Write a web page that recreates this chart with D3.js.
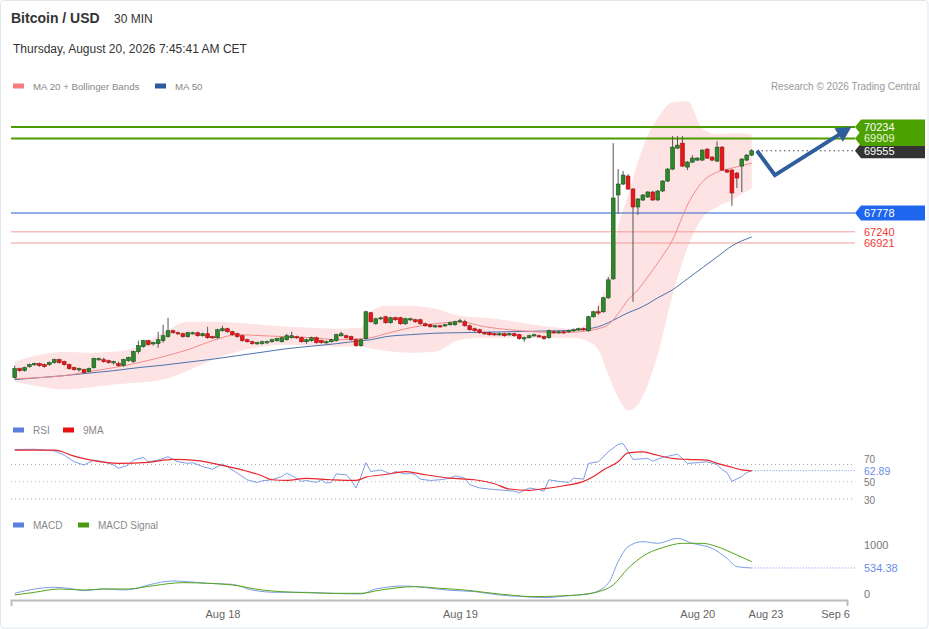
<!DOCTYPE html>
<html><head><meta charset="utf-8">
<script src="https://cdn.jsdelivr.net/npm/d3@7"></script>
<style>body{margin:0;background:#fff;} svg text{font-family:"Liberation Sans",Arial,sans-serif;}</style>
</head><body><svg id="c" width="929" height="629"></svg>
<script>
// ---------- DATA ----------
const startTime = "2026-08-17T03:00:00Z";   // first 30-min candle
const endTime = "2026-09-08T09:30:00Z";     // end of time axis
const open = [63076,63332,63275,63389,63446,63475,63446,63446,63503,63589,
63532,63446,63361,63304,63304,63247,63361,63589,63589,63560,
63503,63475,63418,63560,63532,63817,63960,64131,64045,64045,
64131,64245,64416,64359,64330,64245,64330,64359,64273,64330,
64245,64216,64416,64473,64387,64330,64273,64159,64102,64045,
64045,64074,64102,64131,64102,64159,64216,64245,64216,64102,
64131,64216,64131,64074,64102,64131,64273,64273,64245,64159,
63988,64188,64929,64615,64758,64815,64644,64786,64786,64615,
64729,64729,64729,64615,64587,64530,64558,64558,64587,64587,
64672,64672,64558,64473,64444,64359,64359,64330,64302,64330,
64302,64330,64302,64188,64216,64273,64273,64245,64216,64387,
64359,64387,64387,64416,64444,64473,64416,64815,64957,64957,
65356,65897,68292,68605,68833,68463,67950,68149,68235,68377,
68149,68406,68690,69032,69631,69773,69089,69232,69289,69289,
69602,69374,69260,69659,69004,69004,68918,69118,69289,69431];
const close = [63332,63275,63361,63446,63475,63418,63389,63503,63589,63503,
63446,63332,63304,63332,63218,63332,63617,63617,63532,63503,
63532,63418,63589,63646,63817,63988,64131,64017,64074,64159,
64273,64416,64359,64330,64245,64359,64359,64273,64330,64216,
64216,64444,64473,64387,64302,64245,64131,64102,64045,64074,
64102,64102,64159,64188,64216,64273,64273,64216,64102,64159,
64216,64074,64074,64102,64159,64302,64330,64216,64159,63988,
64159,64957,64672,64758,64786,64644,64786,64729,64615,64758,
64758,64672,64615,64558,64530,64558,64530,64587,64644,64672,
64701,64558,64444,64416,64359,64330,64302,64302,64330,64273,
64330,64273,64188,64216,64273,64302,64245,64188,64416,64359,
64387,64359,64416,64444,64473,64444,64815,64957,64943,65356,
65869,68206,68605,68861,68463,67950,68178,68292,68377,68149,
68406,68690,69032,69659,69716,69118,69232,69346,69346,69574,
69346,69289,69659,69004,68947,68349,68776,69317,69431,69555];
const high = [63418,63361,63389,63475,63503,63503,63475,63532,63617,63617,
63560,63475,63389,63361,63332,63361,63646,63646,63646,63589,
63560,63532,63617,63674,63846,64131,64159,64159,64102,64387,
64587,64786,64444,64387,64359,64387,64387,64387,64359,64530,
64273,64473,64558,64501,64416,64359,64302,64188,64131,64102,
64131,64131,64188,64216,64245,64330,64387,64273,64245,64188,
64245,64245,64159,64131,64188,64330,64387,64302,64273,64188,
64188,64986,64957,64786,64815,64843,64815,64815,64815,64786,
64786,64758,64758,64644,64615,64587,64587,64615,64672,64701,
64758,64729,64587,64501,64473,64387,64387,64359,64359,64359,
64359,64359,64330,64245,64302,64330,64302,64273,64444,64416,
64416,64416,64444,64473,64501,64501,64843,64986,65128,65384,
65954,69773,69032,68975,68890,68491,68206,68320,68406,68406,
68434,68719,69061,69973,69973,69973,69260,69431,69374,69602,
69631,69403,69829,69688,69032,69032,68947,69346,69460,69602];
const low = [63047,63247,63247,63361,63418,63389,63361,63418,63475,63475,
63418,63304,63275,63247,63190,63218,63332,63560,63503,63475,
63446,63389,63389,63532,63503,63760,63931,63988,63988,63931,
64074,64216,64330,64302,64216,64216,64302,64245,64245,64188,
64188,64188,64387,64359,64273,64216,64102,64074,64017,64017,
64017,64045,64074,64102,64074,64131,64188,64188,64074,64045,
64102,64045,64045,64045,64074,64102,64245,64188,64131,63960,
63960,64159,64644,64587,64729,64615,64615,64701,64587,64587,
64701,64644,64587,64530,64501,64501,64501,64530,64558,64558,
64644,64530,64416,64387,64330,64302,64273,64273,64273,64245,
64273,64245,64159,64102,64188,64245,64216,64159,64188,64330,
64330,64330,64359,64387,64416,64416,64387,64786,64872,64929,
65327,65869,67750,68576,68434,65242,67721,68121,68206,68121,
68121,68377,68662,69004,69602,69089,69004,69203,69260,69260,
69317,69260,69232,68975,68918,67978,68491,68377,69260,69403];

// indicator readings (candle index -> value)
const indIdx = [0,5,10,15,20,25,30,35,40,45,50,55,60,65,70,72,75,80,85,90,95,100,105,110,113,116,118,120,122,124,126,128,130,133,136,139,142,145,149];
const ma50 = [63019,63076,63133,63204,63275,63361,63432,63517,63603,63703,63802,63902,63973,64045,64131,64159,64245,64302,64344,64359,64373,64387,64401,64416,64430,64473,64530,64644,64786,64929,65042,65184,65356,65584,65897,66211,66524,66838,67092];
const ma20 = [63047,63076,63133,63247,63361,63503,63674,63874,64131,64302,64273,64245,64216,64159,64188,64216,64330,64501,64615,64672,64530,64444,64387,64359,64373,64416,64473,64587,64900,65299,65584,65954,66354,67009,68006,68661,68946,69061,69203];
const bbUpper = [63532,63731,63817,63789,63817,63960,64359,64672,64672,64644,64587,64530,64501,64473,64501,64957,65128,65128,65042,64842,64785,64700,64587,64501,64473,64672,65156,65869,67351,68291,69231,70001,70486,70942,70970,70201,70030,70059,70030];
const bbLower = [62962,62820,62734,62791,62877,62934,63019,63275,63589,63817,63960,64017,63988,63960,63960,63902,63846,63789,63817,64159,64216,64216,64216,64216,64216,64102,63874,63161,62505,62135,62306,62877,63731,65441,66781,67636,67950,68149,68491];

const rsiIdx = [0,4,8,10,12,14,16,18,20,21,23,24,26,27,29,31,33,35,36,38,40,42,43,45,47,49,50,52,54,55,56,58,59,61,62,63,64,65,67,68,69,70,71,72,74,76,77,79,80,81,82,84,86,88,89,91,92,94,97,99,101,102,104,106,107,108,110,112,113,115,116,118,120,122,123,125,128,129,131,134,136,138,140,142,143,144,145,147,148,149];
const rsiVal = [87.3,87.7,85.8,80.9,73.2,69.4,75.1,73.2,69.4,65.6,69.4,75.1,78.2,73.2,75.1,79.0,73.2,71.3,72.1,67.5,64.5,70.6,67.5,59.9,52.3,49.2,51.1,52.3,56.1,59.9,57.2,50.4,51.5,49.2,52.3,48.5,49.2,59.1,58.0,52.3,42.8,56.1,72.1,61.8,63.7,59.1,61.8,59.1,59.9,58.0,53.0,51.5,52.3,54.2,56.9,54.2,46.6,42.8,40.9,40.1,39.0,37.1,42.8,40.9,39.0,52.3,50.4,49.2,54.2,53.0,71.3,73.2,84.7,93.4,94.2,75.9,77.0,74.0,78.2,82.0,71.3,72.1,73.2,70.0,64.0,60.7,50.4,56.1,60.7,62.89];
const rsiMaIdx = [0,8,12,16,21,27,32,37,41,46,50,52,55,59,64,69,71,75,79,82,88,93,97,100,104,107,111,115,117,119,122,124,127,129,133,136,140,142,145,147,149];
const rsiMaVal = [86.6,86.6,79.7,74.4,71.3,72.5,75.9,74.4,70.2,63.7,56.9,52.3,51.5,53.8,52.3,51.5,55.3,58.4,61.8,59.1,54.2,52.3,47.7,41.6,40.1,42.0,45.4,50.4,56.1,63.7,73.2,83.5,84.7,82.0,77.0,75.9,75.1,71.3,66.8,63.7,62.6];
const macdIdx = [0,4,8,11,14,18,22,24,27,32,35,39,44,48,53,59,64,70,73,79,83,88,93,98,103,107,112,116,120,122,124,127,130,134,137,141,144,146,149];
const macdVal = [20,108,141,121,74,108,87,108,189,270,256,223,202,87,40,40,20,6,108,168,135,81,54,-14,-48,-68,-28,6,222,662,966,1068,1034,1135,1034,932,730,561,534.38];
const sigIdx = [0,4,9,14,18,23,28,34,39,44,50,54,59,64,70,74,81,86,91,95,100,105,110,115,118,121,124,128,131,135,139,142,146,149];
const sigVal = [-14,40,108,87,108,108,175,236,223,189,87,53,33,20,20,87,155,121,87,40,-14,-48,-34,0,53,189,527,831,946,1034,1034,966,797,662];

const resistances = [70234, 69909];
const lastPrice = 69555;
const pivot = 67778;
const supports = [67240, 66921];
const rsiLast = 62.89, macdLast = 534.38;
const rsiTicks = [70, 50, 30];
const macdTicks = [1000, 0];
const forecastTimes = ["2026-08-21T07:00:00Z","2026-08-24T21:30:00Z","2026-09-09T06:30:00Z"];
const forecastPrices = [69555, 68861, 70234];
const tickDates = ["2026-08-18T00:00:00Z","2026-08-19T00:00:00Z","2026-08-20T00:00:00Z","2026-08-23T00:00:00Z","2026-09-06T00:00:00Z"];
const tickLabels = ["Aug 18","Aug 19","Aug 20","Aug 23","Sep 6"];

// ---------- SCALES ----------
const svg = d3.select("#c");
const parse = d3.isoParse;
const step = 30*60*1000;
const t0 = parse(startTime);
const tLast = new Date(+t0 + (close.length-1)*step);
const x = d3.scaleUtc().domain([new Date(+t0 - 0.75*step), tLast, parse(endTime)]).range([11, 751.7, 847]);
const xi = i => x(new Date(+t0 + i*step));
const y = d3.scaleLinear().domain([66921, 70234]).range([243, 127]);
const yR = d3.scaleLinear().domain([30, 70]).range([499, 464.5]);
const yM = d3.scaleLinear().domain([0, 1000]).range([594.3, 545]);
const X0 = 11, X1 = 855, TAGX = 864;

svg.append("rect").attr("x",0.5).attr("y",0.5).attr("width",927.5).attr("height",627.5)
  .attr("rx",3).attr("fill","none").attr("stroke","#e2e7ed");

// ---------- HEADER ----------
svg.append("text").attr("x",11).attr("y",23).attr("font-size",14).attr("font-weight","bold").attr("fill","#333").text("Bitcoin / USD");
svg.append("text").attr("x",114).attr("y",23).attr("font-size",12).attr("fill","#333").text("30 MIN");
svg.append("text").attr("x",13).attr("y",53).attr("font-size",12).attr("fill","#333").text("Thursday, August 20, 2026 7:45:41 AM CET");
function legend(items, yy, fs){
  items.forEach(it=>{
    svg.append("rect").attr("x",it.x).attr("y",yy-2.5).attr("width",11).attr("height",5).attr("fill",it.c);
    svg.append("text").attr("x",it.x+20).attr("y",yy+3.5).attr("font-size",fs).attr("fill","#888").text(it.t);
  });
}
legend([{x:13,c:"#f77d7d",t:"MA 20 + Bollinger Bands"},{x:155,c:"#2d5a9c",t:"MA 50"}], 86, 9.7);
svg.append("text").attr("x",920).attr("y",90).attr("text-anchor","end").attr("font-size",10).attr("fill","#999").text("Research © 2026 Trading Central");

// ---------- PRICE PANEL ----------
const ind = indIdx.map((d,k)=>({i:d, lo:bbLower[k], hi:bbUpper[k], m20:ma20[k], m50:ma50[k]}));
svg.append("path").datum(ind)
  .attr("d", d3.area().x(d=>xi(d.i)).y0(d=>y(d.lo)).y1(d=>y(d.hi)).curve(d3.curveMonotoneX))
  .attr("fill","#fde3e3");

function hline(v, color, w, dash, xa){
  svg.append("line").attr("x1",xa===undefined?X0:xa).attr("x2",X1).attr("y1",y(v)).attr("y2",y(v))
    .attr("stroke",color).attr("stroke-width",w).attr("stroke-dasharray",dash||null);
}
supports.forEach(v=>hline(v,"#f59a9a",1));
hline(pivot,"#2a5fcf",1.2);
resistances.forEach(v=>hline(v,"#4c9c00",2));

svg.append("path").datum(ind).attr("d", d3.line().x(d=>xi(d.i)).y(d=>y(d.m50)).curve(d3.curveMonotoneX))
  .attr("fill","none").attr("stroke","#4d72ad").attr("stroke-width",1);
svg.append("path").datum(ind).attr("d", d3.line().x(d=>xi(d.i)).y(d=>y(d.m20)).curve(d3.curveMonotoneX))
  .attr("fill","none").attr("stroke","#f58b8b").attr("stroke-width",1);

// candles
const candles = close.map((c,i)=>({i, o:open[i], h:high[i], l:low[i], c}));
const cg = svg.append("g");
cg.selectAll("line").data(candles).join("line")
  .attr("x1",d=>xi(d.i)).attr("x2",d=>xi(d.i)).attr("y1",d=>y(d.h)).attr("y2",d=>y(d.l))
  .attr("stroke","#555").attr("stroke-width",1);
cg.selectAll("rect").data(candles).join("rect")
  .attr("x",d=>xi(d.i)-1.9).attr("width",3.8)
  .attr("y",d=>y(Math.max(d.o,d.c)))
  .attr("height",d=>Math.max(1.2, Math.abs(y(d.o)-y(d.c))))
  .attr("fill",d=>d.c>=d.o?"#2a8a2a":"#e8161b")
  .attr("stroke",d=>d.c>=d.o?"#1f4f1f":"#a51010").attr("stroke-width",0.6);

// forecast arrow
const fc = forecastTimes.map((t,k)=>[x(parse(t)), y(forecastPrices[k])]);
hline(lastPrice,"#444",1,"1.5,3", fc[0][0]);
{
  const [bx,by] = fc[1], [tx,ty] = fc[2];
  const dx = tx-bx, dy = ty-by, L = Math.hypot(dx,dy), ux = dx/L, uy = dy/L;
  const hl = 15, hw = 8;
  const base = [tx-ux*hl, ty-uy*hl];
  svg.append("path").attr("d", d3.line()([fc[0], fc[1], [base[0]+ux*2, base[1]+uy*2]]))
    .attr("fill","none").attr("stroke","#2f5e9c").attr("stroke-width",4).attr("stroke-linejoin","miter");
  svg.append("path").attr("d", `M${tx},${ty}L${base[0]-uy*hw},${base[1]+ux*hw}L${base[0]+uy*hw},${base[1]-ux*hw}Z`)
    .attr("fill","#2f5e9c");
}

// price tags
function tag(v, fill){
  const yc = y(v), h = 7.5;
  svg.append("path").attr("d",`M${X1},${yc}L${X1+6},${yc-h}L925,${yc-h}L925,${yc+h}L${X1+6},${yc+h}Z`).attr("fill",fill);
}
function tagText(v, color){
  svg.append("text").attr("x",TAGX).attr("y",y(v)+4).attr("font-size",11).attr("fill",color).text(d3.format("d")(v));
}
tag(lastPrice,"#333");
resistances.forEach(v=>tag(v,"#4ca100"));
tag(pivot,"#1f66ee");
tagText(resistances[0],"#ffffff");
tagText(resistances[1],"#e6f4d6");
tagText(lastPrice,"#ffffff");
tagText(pivot,"#ffffff");
supports.forEach(v=>tagText(v,"#ee3a32"));

// ---------- RSI PANEL ----------
legend([{x:13,c:"#5b7fe0",t:"RSI"},{x:63,c:"#e81010",t:"9MA"}], 430, 10);
rsiTicks.forEach(v=>{
  svg.append("line").attr("x1",X0).attr("x2",X1).attr("y1",yR(v)).attr("y2",yR(v))
    .attr("stroke","#aaa").attr("stroke-width",1).attr("stroke-dasharray","1,3");
});
svg.append("line").attr("x1",xi(close.length-1)).attr("x2",X1).attr("y1",yR(rsiLast)).attr("y2",yR(rsiLast))
  .attr("stroke","#6b8ee6").attr("stroke-width",1).attr("stroke-dasharray","1,2");
rsiTicks.forEach(v=>{
  const yy = v === 70 ? yR(v) - 2 : yR(v) + 4.5;   // "70" sits just above the last-value label
  svg.append("text").attr("x",TAGX).attr("y",yy).attr("font-size",10).attr("fill","#777").text(v);
});
svg.append("text").attr("x",TAGX).attr("y",yR(rsiLast)+4.2).attr("font-size",10.5).attr("fill","#6b8ee6").text(d3.format(".2f")(rsiLast));
const rsiPts = rsiIdx.map((d,k)=>[xi(d), yR(rsiVal[k])]);
svg.append("path").attr("d", d3.line()(rsiPts)).attr("fill","none").attr("stroke","#7d9ce8").attr("stroke-width",1);
const rmaPts = rsiMaIdx.map((d,k)=>[xi(d), yR(rsiMaVal[k])]);
svg.append("path").attr("d", d3.line().curve(d3.curveMonotoneX)(rmaPts)).attr("fill","none").attr("stroke","#e8262b").attr("stroke-width",1.2);

// ---------- MACD PANEL ----------
legend([{x:13,c:"#5b7fe0",t:"MACD"},{x:78,c:"#4a9a10",t:"MACD Signal"}], 525, 10);
macdTicks.forEach(v=>{
  svg.append("text").attr("x",TAGX).attr("y",yM(v)+4).attr("font-size",11).attr("fill","#777").text(v);
});
svg.append("line").attr("x1",xi(close.length-1)).attr("x2",X1).attr("y1",yM(macdLast)).attr("y2",yM(macdLast))
  .attr("stroke","#6b8ee6").attr("stroke-width",1).attr("stroke-dasharray","1,2");
svg.append("text").attr("x",TAGX).attr("y",yM(macdLast)+4).attr("font-size",11).attr("fill","#6b8ee6").text(d3.format(".2f")(macdLast));
const mPts = macdIdx.map((d,k)=>[xi(d), yM(macdVal[k])]);
svg.append("path").attr("d", d3.line().curve(d3.curveMonotoneX)(mPts)).attr("fill","none").attr("stroke","#7d9ce8").attr("stroke-width",1);
const sPts = sigIdx.map((d,k)=>[xi(d), yM(sigVal[k])]);
svg.append("path").attr("d", d3.line().curve(d3.curveMonotoneX)(sPts)).attr("fill","none").attr("stroke","#56a51a").attr("stroke-width",1);

// ---------- X AXIS ----------
const ax = d3.axisBottom(x).tickValues(tickDates.map(parse)).tickFormat((d,i)=>tickLabels[i])
  .tickSizeInner(0).tickSizeOuter(6).tickPadding(10);
const ag = svg.append("g").attr("transform","translate(0,600)").call(ax);
ag.select(".domain").attr("stroke","#bbb").attr("stroke-width",2);
ag.selectAll("text").attr("fill","#666").attr("font-size",11).style("font-family",'"Liberation Sans",Arial,sans-serif');
</script>
</body></html>
